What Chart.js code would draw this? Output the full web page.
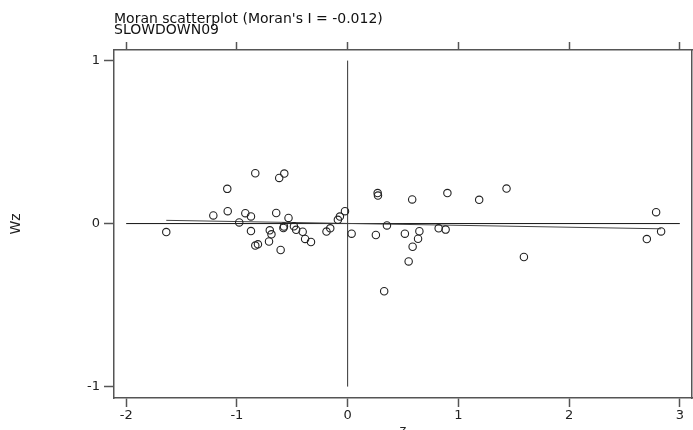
<!DOCTYPE html>
<html>
<head>
<meta charset="utf-8">
<script src="https://cdn.jsdelivr.net/npm/chart.js@4.4.1/dist/chart.umd.min.js"></script>
<style>
  html, body { margin: 0; padding: 0; background: #fff; }
  #wrap { width: 693px; height: 430px; }
</style>
</head>
<body>
<div id="wrap"><canvas id="moran" width="693" height="430"></canvas></div>
<script>
// z (standardised variable) and Wz (spatial lag)
const zValues = [
  -1.638, -1.213, -1.087, -1.083, -0.979, -0.924, -0.873, -0.873, -0.834, -0.834,
  -0.810, -0.710, -0.703, -0.688, -0.645, -0.618, -0.572, -0.605, -0.575, -0.580,
  -0.534, -0.485, -0.465, -0.406, -0.384, -0.331, -0.191, -0.157, -0.088, -0.070,
  -0.024, 0.036, 0.255, 0.271, 0.274, 0.355, 0.517, 0.583, 0.648, 0.636,
  0.587, 0.551, 0.330, 0.822, 0.885, 0.901, 1.188, 1.435, 1.592, 2.702,
  2.786, 2.831
];
const wzValues = [
  -0.052, 0.050, 0.213, 0.076, 0.007, 0.064, 0.044, -0.046, 0.309, -0.135,
  -0.127, -0.110, -0.041, -0.066, 0.065, 0.280, 0.307, -0.162, -0.018, -0.027,
  0.035, -0.017, -0.038, -0.050, -0.094, -0.113, -0.049, -0.029, 0.023, 0.043,
  0.076, -0.062, -0.070, 0.187, 0.172, -0.011, -0.062, 0.148, -0.047, -0.093,
  -0.142, -0.232, -0.415, -0.029, -0.037, 0.187, 0.146, 0.215, -0.205, -0.095,
  0.070, -0.048
];

// fitted line (slope = Moran's I), end points as drawn
const fitX = [-1.638, 2.831];
const fitY = [0.020, -0.032];

// reference axes through the origin
const hLineX = [-2, 3];
const hLineY = [0, 0];
const vLineX = [0, 0];
const vLineY = [-1, 1];

const xTicks = [-2, -1, 0, 1, 2, 3];
const yTicks = [-1, 0, 1];

const titleLines = ["Moran scatterplot (Moran's I = -0.012)", "SLOWDOWN09"];

const toPoints = (xs, ys) => xs.map((x, i) => ({ x: x, y: ys[i] }));

const fontFamily = "'DejaVu Sans', Verdana, sans-serif";
const frameColor = "#555";

const setTicks = list => axis => {
  axis.ticks = list.map(v => ({ value: v }));
};

// fixed box sizes so the plot area sits where it does in the original
const fixSize = (w, h) => s => {
  if (w !== null) s.width = w;
  if (h !== null) s.height = h;
  s.paddingLeft = 0;
  s.paddingRight = 0;
  s.paddingTop = 0;
  s.paddingBottom = 0;
};

new Chart(document.getElementById("moran"), {
  type: "scatter",
  data: {
    datasets: [
      {
        data: toPoints(zValues, wzValues),
        pointRadius: 3.7,
        pointBorderWidth: 1.1,
        borderColor: "#222",
        backgroundColor: "rgba(0,0,0,0)",
        pointHoverRadius: 3.7
      },
      {
        data: toPoints(fitX, fitY),
        showLine: true,
        pointRadius: 0,
        borderColor: "#444",
        borderWidth: 1
      },
      {
        data: toPoints(hLineX, hLineY),
        showLine: true,
        pointRadius: 0,
        borderColor: "#111",
        borderWidth: 1
      },
      {
        data: toPoints(vLineX, vLineY),
        showLine: true,
        pointRadius: 0,
        borderColor: "#333",
        borderWidth: 1
      }
    ]
  },
  options: {
    responsive: false,
    animation: false,
    layout: { padding: 0, autoPadding: false },
    plugins: {
      legend: { display: false },
      tooltip: { enabled: false },
      title: { display: false }
    },
    scales: {
      x: {
        type: "linear",
        position: "bottom",
        min: -2.11,
        max: 3.11,
        afterBuildTicks: setTicks(xTicks),
        afterFit: fixSize(null, 32),
        border: { display: true, color: frameColor, width: 1.5 },
        grid: { drawOnChartArea: false, drawTicks: true, tickLength: 9, color: frameColor, tickWidth: 1.5 },
        ticks: {
          padding: 1,
          color: "#222",
          font: { family: fontFamily, size: 13 },
          maxRotation: 0
        },
        title: {
          display: true,
          text: "z",
          color: "#222",
          font: { family: fontFamily, size: 13 },
          padding: { top: 0, bottom: -8 }
        }
      },
      x2: {
        type: "linear",
        position: "top",
        min: -2.11,
        max: 3.11,
        afterBuildTicks: setTicks(xTicks),
        afterFit: fixSize(null, 50),
        border: { display: true, color: frameColor, width: 1.5 },
        grid: { drawOnChartArea: false, drawTicks: true, tickLength: 8, color: frameColor, tickWidth: 1.5 },
        ticks: { display: false },
        title: {
          display: true,
          text: titleLines,
          align: "start",
          color: "#111",
          font: { family: fontFamily, size: 14, lineHeight: "11px" },
          padding: { top: 13.5, bottom: 0 }
        }
      },
      y: {
        type: "linear",
        position: "left",
        min: -1.07,
        max: 1.065,
        afterBuildTicks: setTicks(yTicks),
        afterFit: fixSize(114, null),
        border: { display: true, color: frameColor, width: 1.5 },
        grid: { drawOnChartArea: false, drawTicks: true, tickLength: 10, color: frameColor, tickWidth: 1.5 },
        ticks: {
          padding: 4,
          color: "#222",
          font: { family: fontFamily, size: 13 }
        },
        title: {
          display: true,
          text: "Wz",
          color: "#222",
          font: { family: fontFamily, size: 14 },
          padding: { top: 8, bottom: 0 }
        }
      },
      y2: {
        type: "linear",
        position: "right",
        min: -1.07,
        max: 1.065,
        afterBuildTicks: setTicks(yTicks),
        afterFit: fixSize(1, null),
        border: { display: true, color: frameColor, width: 1.5 },
        grid: { display: false },
        ticks: { display: false }
      }
    }
  }
});
</script>
</body>
</html>
